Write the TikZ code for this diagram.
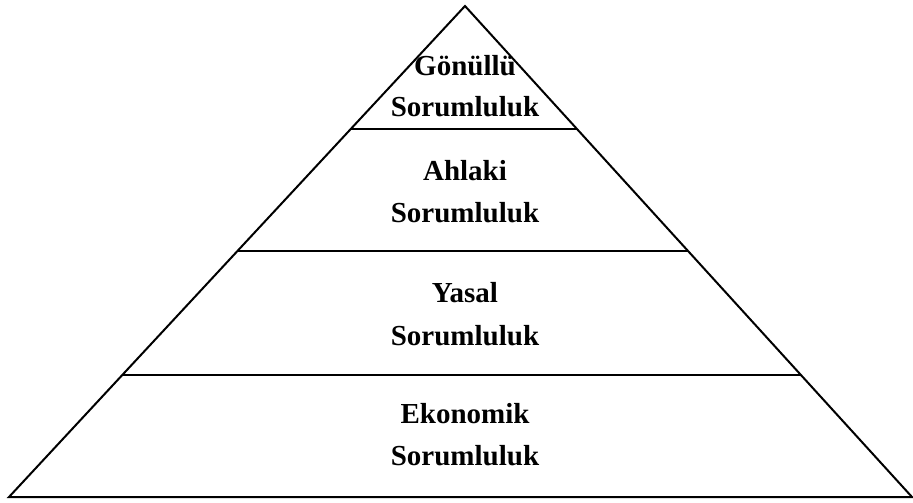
\documentclass[tikz,border=0pt]{standalone}
\usepackage{fontspec}
\setmainfont{Liberation Serif}
\begin{document}
\begin{tikzpicture}[x=1pt,y=-1pt,
  lbl/.style={font=\fontsize{29}{42}\selectfont\bfseries, anchor=base, inner sep=0pt},
  edge/.style={line width=2pt, line join=miter}]
\useasboundingbox (0,0) rectangle (913,503);
\coordinate (apex) at (465,6);
\coordinate (bl) at (9,497);
\coordinate (br) at (912,497);
\draw[edge] (apex) -- (bl) -- (br) -- cycle;
\foreach \y/\n in {129/a,251/b,375/c}{
  \path (apex) -- (bl) coordinate[pos={(\y-6)/491}] (l\n);
  \path (apex) -- (br) coordinate[pos={(\y-6)/491}] (r\n);
  \draw[edge] (l\n) -- (r\n);
}
\node[lbl] (g1) at (465,75) {Gönüllü};
\node[lbl] (g2) at (465,117) {Sorumluluk};
\node[lbl] (h1) at (465,180) {Ahlaki};
\node[lbl] (h2) at (465,222) {Sorumluluk};
\node[lbl] (y1) at (465,302) {Yasal};
\node[lbl] (y2) at (465,345) {Sorumluluk};
\node[lbl] (e1) at (465,423) {Ekonomik};
\node[lbl] (e2) at (465,465) {Sorumluluk};
\end{tikzpicture}
\end{document}
